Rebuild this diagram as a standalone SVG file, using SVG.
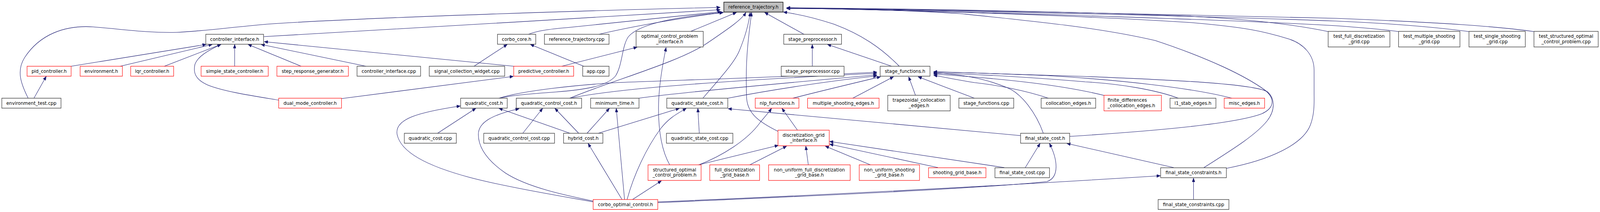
<svg xmlns="http://www.w3.org/2000/svg" width="4432" height="544" viewBox="0 0 4432 544">
<style>
.n rect{fill:#fff;stroke:#404040;stroke-width:1.4}
.r rect{fill:#fff;stroke:#ff0000;stroke-width:1.2}
.root rect{fill:#bfbfbf;stroke:#000;stroke-width:1.4}
text{font-family:"DejaVu Sans","Liberation Sans",sans-serif;font-size:12.7px;fill:#000;text-anchor:middle}
text.l{text-anchor:start}
#edges path{fill:none;stroke:#191970;stroke-width:1.1;marker-end:url(#ah)}
</style>
<defs>
<marker id="ah" markerUnits="userSpaceOnUse" markerWidth="11" markerHeight="8" refX="10" refY="4" orient="auto">
<path d="M0,0 L10,4 L0,8 z" fill="#191970" stroke="#191970" stroke-width="0.8"/>
</marker>
</defs>
<rect x="0" y="0" width="4432" height="544" fill="#fff"/>
<g id="diagram" transform="scale(0.9242,1)">
<g id="edges">
<path d="M78,252 C58,215 45,182 68,148 C110,88 180,64 258,69 C340,75 410,85 490,83 C560,80 620,72 740,62 C1000,45 1700,25 1995,19"/>
<path d="M731,94 C1100,75 1600,47 1995,25"/>
<path d="M1464,88 C1490,78 1530,74 1580,70 C1750,55 1900,40 1998,30"/>
<path d="M1659,88 C1760,66 1900,44 2003,32"/>
<path d="M1382,252 C1420,244 1480,240 1540,236 C1620,230 1680,222 1705,195 C1725,165 1722,120 1740,95 C1770,60 1880,42 2004,32"/>
<path d="M1578,252 C1700,205 1880,160 1960,110 C2020,72 2055,50 2066,32"/>
<path d="M1912,81 L2040,32"/>
<path d="M1947,252 C1995,200 2035,160 2048,130 C2066,90 2074,60 2078,32"/>
<path d="M2155,337 C2100,312 2070,290 2068,250 C2066,200 2068,150 2071,120 C2074,90 2078,60 2082,32"/>
<path d="M2227,88 L2118,32"/>
<path d="M2491,170 C2440,122 2385,88 2310,62 C2250,44 2210,36 2170,31"/>
<path d="M3679,81 C3600,66 3480,50 3300,42 C3000,30 2500,22 2179,20"/>
<path d="M3874,81 C3820,74 3760,70 3700,66 C3400,50 2600,27 2179,21"/>
<path d="M4069,81 C3980,70 3850,60 3700,54 C3300,40 2600,26 2179,21"/>
<path d="M4249,81 C4150,68 4000,58 3700,47 C3300,38 2600,24 2179,20"/>
<path d="M2963,350 C3200,336 3420,318 3495,292 C3535,275 3528,250 3505,232 C3450,195 3350,150 3200,104 C3050,72 2900,58 2660,35 C2500,25 2300,22 2179,22"/>
<path d="M3397,432 C3520,410 3610,370 3630,320 C3642,290 3640,260 3640,240 L3640,180 C3640,140 3610,112 3570,100 C3500,80 3450,70 3300,58 C3000,40 2500,25 2179,21"/>
<path d="M2890,342 C2870,290 2830,240 2790,225 C2720,198 2650,190 2586,187"/>
<path d="M3335,430 C3420,380 3480,345 3510,310 C3535,280 3530,250 3510,235 C3470,215 3250,205 3000,196 C2800,190 2650,185 2586,184"/>
<path d="M2904,252 C2840,232 2760,218 2700,212 C2650,205 2610,197 2586,193"/>
<path d="M3059,245 C2950,220 2800,203 2586,190"/>
<path d="M3264,252 C3200,230 3100,215 3006,210 C2850,198 2700,190 2586,188"/>
<path d="M3412,252 C3300,225 3100,205 2900,194 C2750,188 2650,186 2586,185"/>
<path d="M2699,252 L2543,197"/>
<path d="M2536,245 L2517,197"/>
<path d="M2362,252 L2475,197"/>
<path d="M2196,252 C2280,232 2380,210 2439,197"/>
<path d="M2016,252 C2150,228 2320,205 2429,195"/>
<path d="M1770,252 C1840,242 2150,215 2429,192"/>
<path d="M1580,252 C1700,228 2000,207 2429,188"/>
<path d="M1382,252 C1450,232 1600,218 1707,212 C1900,205 2200,197 2429,185"/>
<path d="M197,170 L571,114"/>
<path d="M333,170 L588,114"/>
<path d="M455,170 L612,114"/>
<path d="M772,257 C700,246 620,235 575,218 C540,204 535,185 540,165 C548,145 575,130 612,114"/>
<path d="M650,170 L650,114"/>
<path d="M834,170 L687,114"/>
<path d="M1014,170 L723,114"/>
<path d="M1423,170 L732,107"/>
<path d="M1313,170 L1405,114"/>
<path d="M1617,170 L1469,114"/>
<path d="M1556,170 L1765,121"/>
<path d="M1855,423 C1832,385 1824,330 1824,278 C1824,230 1832,180 1845,122"/>
<path d="M946,253 L1422,196"/>
<path d="M94,252 L128,196"/>
<path d="M1212,342 L1318,278"/>
<path d="M1579,342 L1382,278"/>
<path d="M1643,518 C1520,498 1380,475 1300,455 C1180,425 1110,390 1100,345 C1092,305 1160,288 1275,272"/>
<path d="M1448,342 L1503,278"/>
<path d="M1603,342 L1537,278"/>
<path d="M1643,516 C1560,500 1460,480 1400,444 C1350,412 1325,378 1325,345 C1325,315 1360,295 1438,279"/>
<path d="M1626,342 L1688,278"/>
<path d="M1730,512 L1707,278"/>
<path d="M1657,342 L1882,278"/>
<path d="M1737,512 C1755,450 1790,380 1830,330 C1855,300 1880,290 1901,278"/>
<path d="M1937,342 L1933,278"/>
<path d="M2827,348 L2017,279"/>
<path d="M1723,512 L1629,368"/>
<path d="M1935,423 L2156,373"/>
<path d="M2077,423 L2179,375"/>
<path d="M2239,423 L2232,375"/>
<path d="M2411,423 L2286,375"/>
<path d="M2598,430 L2298,370"/>
<path d="M2782,430 L2298,363"/>
<path d="M1936,423 C2000,400 2070,360 2105,315 C2120,298 2130,288 2137,278"/>
<path d="M2209,334 L2166,278"/>
<path d="M1752,512 L1832,464"/>
<path d="M2840,430 L2881,368"/>
<path d="M1822,520 C2200,505 2700,485 2900,466 C2935,455 2930,410 2907,368"/>
<path d="M3251,430 L2955,368"/>
<path d="M3306,512 L3306,457"/>
<path d="M1822,518 C2300,500 2800,475 3214,451"/>
<path d="M2250,170 L2250,114"/>
<path d="M2470,170 L2292,114"/>
</g>
<g id="n-ref" class="root"><rect x="2005" y="5.5" width="164" height="25.5"/><text x="2087" y="22.5">reference_trajectory.h</text></g>
<g id="n-controller_interface_h" class="n"><rect x="570" y="88" width="160" height="25.5"/><text x="650" y="105">controller_interface.h</text></g>
<g id="n-corbo_core_h" class="n"><rect x="1378" y="88" width="106" height="25.5"/><text x="1431" y="105">corbo_core.h</text></g>
<g id="n-reference_trajectory_cpp" class="n"><rect x="1508" y="88" width="179" height="25.5"/><text x="1597.5" y="105">reference_trajectory.cpp</text></g>
<g id="n-optimal_control_problem_interface_h" class="n"><rect x="1762" y="80.5" width="186" height="40"/><text x="1855" y="97.3">optimal_control_problem</text><text x="1855" y="110.8">_interface.h</text></g>
<g id="n-stage_preprocessor_h" class="n"><rect x="2171" y="88" width="160" height="25.5"/><text x="2251" y="105">stage_preprocessor.h</text></g>
<g id="n-test_full" class="n"><rect x="3679" y="80.5" width="171" height="40"/><text x="3764.5" y="97.3">test_full_discretization</text><text x="3764.5" y="110.8">_grid.cpp</text></g>
<g id="n-test_multiple" class="n"><rect x="3874" y="80.5" width="170" height="40"/><text x="3959" y="97.3">test_multiple_shooting</text><text x="3959" y="110.8">_grid.cpp</text></g>
<g id="n-test_single" class="n"><rect x="4069" y="80.5" width="156" height="40"/><text x="4147" y="97.3">test_single_shooting</text><text x="4147" y="110.8">_grid.cpp</text></g>
<g id="n-test_structured" class="n"><rect x="4249" y="80.5" width="178" height="40"/><text x="4338" y="97.3">test_structured_optimal</text><text x="4338" y="110.8">_control_problem.cpp</text></g>
<g id="n-pid_controller_h" class="r"><rect x="75" y="170" width="122" height="25.5"/><text x="136" y="187">pid_controller.h</text></g>
<g id="n-environment_h" class="r"><rect x="222" y="170" width="117" height="25.5"/><text x="280.5" y="187">environment.h</text></g>
<g id="n-lqr_controller_h" class="r"><rect x="362" y="170" width="119" height="25.5"/><text x="421.5" y="187">lqr_controller.h</text></g>
<g id="n-simple_state_controller_h" class="r"><rect x="557" y="170" width="186" height="25.5"/><text x="650" y="187">simple_state_controller.h</text></g>
<g id="n-step_response_generator_h" class="r"><rect x="767" y="170" width="198" height="25.5"/><text x="866" y="187">step_response_generator.h</text></g>
<g id="n-controller_interface_cpp" class="n"><rect x="989" y="170" width="176" height="25.5"/><text x="1077" y="187">controller_interface.cpp</text></g>
<g id="n-signal_collection_widget_cpp" class="n"><rect x="1189" y="170" width="209" height="25.5"/><text x="1293.5" y="187">signal_collection_widget.cpp</text></g>
<g id="n-predictive_controller_h" class="r"><rect x="1423" y="170" width="166" height="25.5"/><text x="1506" y="187">predictive_controller.h</text></g>
<g id="n-app_cpp" class="n"><rect x="1614" y="170" width="73" height="25.5"/><text x="1650.5" y="187">app.cpp</text></g>
<g id="n-stage_preprocessor_cpp" class="n"><rect x="2164" y="170" width="174" height="25.5"/><text x="2251" y="187">stage_preprocessor.cpp</text></g>
<g id="n-stage_functions_h" class="n"><rect x="2438" y="170" width="138" height="25.5"/><text x="2507" y="187">stage_functions.h</text></g>
<g id="n-environment_test_cpp" class="n"><rect x="5" y="252" width="164" height="25.5"/><text x="87" y="269">environment_test.cpp</text></g>
<g id="n-dual_mode_controller_h" class="r"><rect x="772" y="252" width="174" height="25.5"/><text x="859" y="269">dual_mode_controller.h</text></g>
<g id="n-quadratic_cost_h" class="n"><rect x="1276" y="252" width="129" height="25.5"/><text x="1340.5" y="269">quadratic_cost.h</text></g>
<g id="n-quadratic_control_cost_h" class="n"><rect x="1430" y="252" width="181" height="25.5"/><text x="1520.5" y="269">quadratic_control_cost.h</text></g>
<g id="n-minimum_time_h" class="n"><rect x="1636" y="252" width="134" height="25.5"/><text x="1703" y="269">minimum_time.h</text></g>
<g id="n-quadratic_state_cost_h" class="n"><rect x="1847" y="252" width="169" height="25.5"/><text x="1931.5" y="269">quadratic_state_cost.h</text></g>
<g id="n-nlp_functions_h" class="r"><rect x="2092" y="252" width="121" height="25.5"/><text x="2152.5" y="269">nlp_functions.h</text></g>
<g id="n-multiple_shooting_edges_h" class="r"><rect x="2237" y="252" width="198" height="25.5"/><text x="2336" y="269">multiple_shooting_edges.h</text></g>
<g id="n-trapezoidal_collocation_edges_h" class="n"><rect x="2459" y="244.5" width="173" height="40"/><text x="2545.5" y="261.3">trapezoidal_collocation</text><text x="2545.5" y="274.8">_edges.h</text></g>
<g id="n-stage_functions_cpp" class="n"><rect x="2656" y="252" width="152" height="25.5"/><text x="2732" y="269">stage_functions.cpp</text></g>
<g id="n-collocation_edges_h" class="n"><rect x="2884" y="252" width="151" height="25.5"/><text x="2959.5" y="269">collocation_edges.h</text></g>
<g id="n-finite_differences_collocation_edges_h" class="r"><rect x="3058" y="244.5" width="159" height="40"/><text class="l" x="3068" y="261.3">finite_differences</text><text class="l" x="3068" y="274.8">_collocation_edges.h</text></g>
<g id="n-l1_stab_edges_h" class="n"><rect x="3241" y="252" width="127" height="25.5"/><text x="3304.5" y="269">l1_stab_edges.h</text></g>
<g id="n-misc_edges_h" class="r"><rect x="3391" y="252" width="112" height="25.5"/><text x="3447" y="269">misc_edges.h</text></g>
<g id="n-quadratic_cost_cpp" class="n"><rect x="1120" y="342" width="144" height="25.5"/><text x="1192" y="359">quadratic_cost.cpp</text></g>
<g id="n-quadratic_control_cost_cpp" class="n"><rect x="1340" y="342" width="196" height="25.5"/><text x="1438" y="359">quadratic_control_cost.cpp</text></g>
<g id="n-hybrid_cost_h" class="n"><rect x="1561" y="342" width="109" height="25.5"/><text x="1615.5" y="359">hybrid_cost.h</text></g>
<g id="n-quadratic_state_cost_cpp" class="n"><rect x="1846" y="342" width="184" height="25.5"/><text x="1938" y="359">quadratic_state_cost.cpp</text></g>
<g id="n-discretization_grid_interface_h" class="r"><rect x="2155" y="334" width="142" height="40"/><text x="2226" y="350.8">discretization_grid</text><text x="2226" y="364.3">_interface.h</text></g>
<g id="n-final_state_cost_h" class="n"><rect x="2827" y="342" width="136" height="25.5"/><text x="2895" y="359">final_state_cost.h</text></g>
<g id="n-structured_optimal_control_problem_h" class="r"><rect x="1795" y="423" width="147" height="40"/><text x="1868.5" y="439.8">structured_optimal</text><text x="1868.5" y="453.3">_control_problem.h</text></g>
<g id="n-full_discretization_grid_base_h" class="r"><rect x="1966" y="423" width="138" height="40"/><text x="2035" y="439.8">full_discretization</text><text x="2035" y="453.3">_grid_base.h</text></g>
<g id="n-non_uniform_full_discretization_grid_base_h" class="r"><rect x="2129" y="423" width="226" height="40"/><text x="2242" y="439.8">non_uniform_full_discretization</text><text x="2242" y="453.3">_grid_base.h</text></g>
<g id="n-non_uniform_shooting_grid_base_h" class="r"><rect x="2380" y="423" width="167" height="40"/><text x="2463.5" y="439.8">non_uniform_shooting</text><text x="2463.5" y="453.3">_grid_base.h</text></g>
<g id="n-shooting_grid_base_h" class="r"><rect x="2572" y="430.5" width="159" height="25.5"/><text x="2651.5" y="447.5">shooting_grid_base.h</text></g>
<g id="n-final_state_cost_cpp" class="n"><rect x="2756" y="430.5" width="151" height="25.5"/><text x="2831.5" y="447.5">final_state_cost.cpp</text></g>
<g id="n-final_state_constraints_h" class="n"><rect x="3215" y="430.5" width="182" height="25.5"/><text x="3306" y="447.5">final_state_constraints.h</text></g>
<g id="n-corbo_optimal_control_h" class="r"><rect x="1643" y="512" width="179" height="25.5"/><text x="1732.5" y="529">corbo_optimal_control.h</text></g>
<g id="n-final_state_constraints_cpp" class="n"><rect x="3208" y="512" width="196" height="25.5"/><text x="3306" y="529">final_state_constraints.cpp</text></g>
</g>
</svg>
